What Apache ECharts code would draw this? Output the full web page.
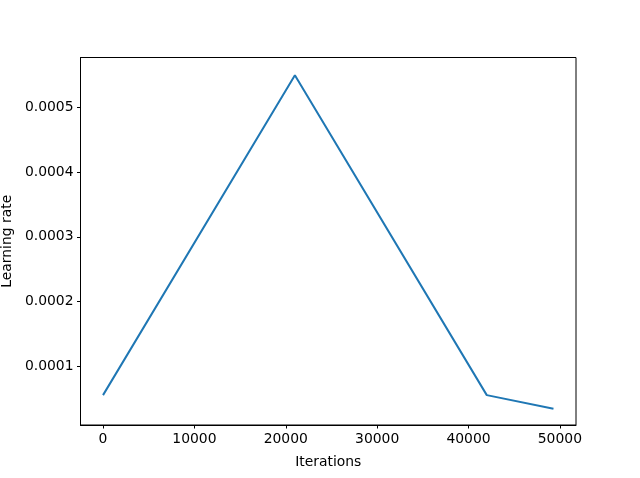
<!DOCTYPE html>
<html>
<head>
<meta charset="utf-8">
<script src="https://cdn.jsdelivr.net/npm/echarts@6/dist/echarts.min.js"></script>
<style>
  html, body { margin: 0; padding: 0; background: #fff; }
  #chart { width: 640px; height: 478px; }
</style>
</head>
<body>
<div id="chart"></div>
<script>
// one-cycle schedule
const iterations = [0, 21000, 42000, 49300];
const learningRate = [0.000055, 0.00055, 0.000055, 0.000034];
const xTicks = [0, 10000, 20000, 30000, 40000, 50000];
const yTicks = [0.0001, 0.0002, 0.0003, 0.0004, 0.0005];

const font = 'DejaVu Sans';
const chart = echarts.init(document.getElementById('chart'));

chart.setOption({
  animation: false,
  grid: {
    left: 80.5, right: 64, top: 57.5, bottom: 53,
    outerBoundsMode: 'none',
    containLabel: false,
    show: true, borderColor: '#000', borderWidth: 1
  },
  xAxis: {
    type: 'value',
    min: -2465, max: 51765,
    name: 'Iterations',
    nameLocation: 'middle',
    nameGap: 30,
    nameTextStyle: { color: '#000', fontFamily: font, fontSize: 13.9 },
    axisLine: { show: true, onZero: false, lineStyle: { color: '#000', width: 1 } },
    axisTick: { show: true, length: 3.5, lineStyle: { color: '#000', width: 1 }, customValues: xTicks },
    axisLabel: {
      color: '#000', fontFamily: font, fontSize: 13.9, margin: 7, customValues: xTicks,
      formatter: v => String(v)
    },
    splitLine: { show: false }
  },
  yAxis: {
    type: 'value',
    min: 0.0000088, max: 0.0005773,
    name: 'Learning rate',
    nameLocation: 'middle',
    nameGap: 66,
    nameTextStyle: { color: '#000', fontFamily: font, fontSize: 13.9 },
    axisLine: { show: true, onZero: false, lineStyle: { color: '#000', width: 1 } },
    axisTick: { show: true, length: 3.5, lineStyle: { color: '#000', width: 1 }, customValues: yTicks },
    axisLabel: {
      color: '#000', fontFamily: font, fontSize: 13.9, margin: 7, customValues: yTicks,
      formatter: v => v.toFixed(4)
    },
    splitLine: { show: false }
  },
  series: [{
    type: 'line',
    data: iterations.map((x, i) => [x, learningRate[i]]),
    showSymbol: false,
    lineStyle: { color: '#1f77b4', width: 2 }
  }]
});
</script>
</body>
</html>
